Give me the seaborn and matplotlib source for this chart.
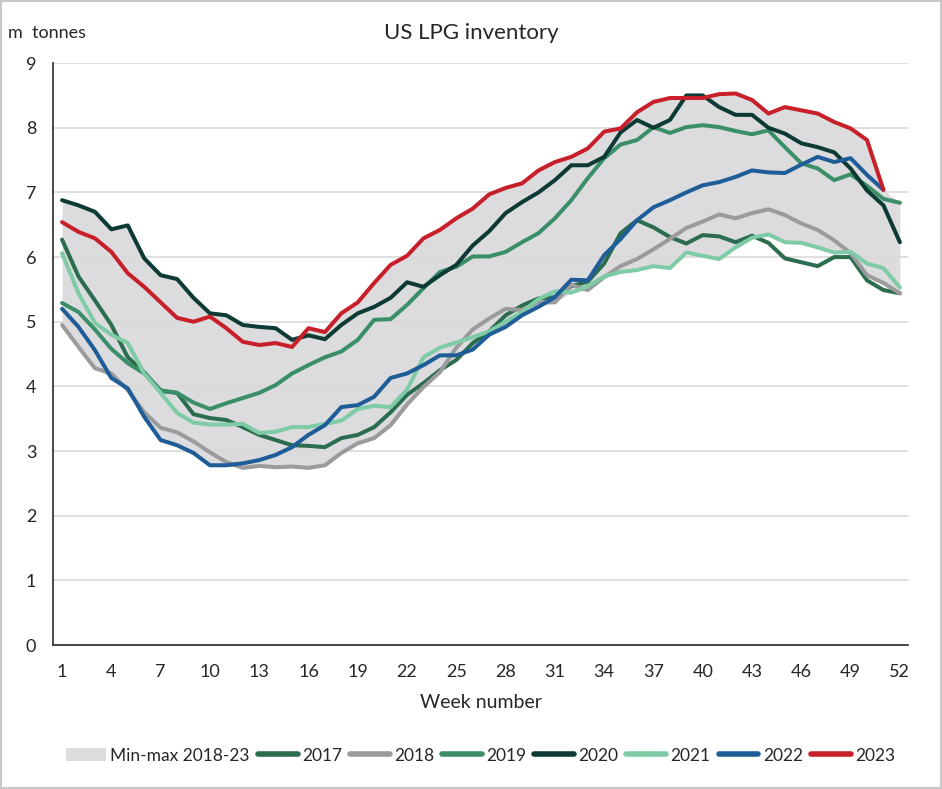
import matplotlib
matplotlib.use("Agg")
import matplotlib.pyplot as plt
from matplotlib.patches import Patch, Rectangle
from matplotlib.lines import Line2D
import numpy as np
import pandas as pd
import seaborn as sns

# weekly inventory, m tonnes
weeks = list(range(1, 53))

y2017 = [6.27, 5.7, 5.33, 4.95, 4.45, 4.22, 3.93, 3.9, 3.57, 3.51,
         3.48, 3.37, 3.25, 3.17, 3.09, 3.08, 3.06, 3.2, 3.25, 3.37,
         3.6, 3.87, 4.05, 4.25, 4.41, 4.67, 4.85, 5.1, 5.25, 5.36,
         5.38, 5.55, 5.62, 5.9, 6.37, 6.57, 6.46, 6.31, 6.21, 6.34,
         6.32, 6.23, 6.33, 6.22, 5.98, 5.92, 5.86, 6.0, 6.0, 5.64,
         5.49, 5.44]
y2018 = [4.95, 4.61, 4.28, 4.2, 3.94, 3.6, 3.36, 3.29, 3.15, 2.98,
         2.83, 2.74, 2.77, 2.75, 2.76, 2.74, 2.78, 2.97, 3.12, 3.2,
         3.4, 3.72, 3.99, 4.22, 4.6, 4.88, 5.05, 5.2, 5.18, 5.3,
         5.3, 5.57, 5.49, 5.69, 5.86, 5.97, 6.12, 6.28, 6.45, 6.55,
         6.66, 6.6, 6.68, 6.74, 6.65, 6.52, 6.42, 6.26, 6.06, 5.72,
         5.6, 5.44]
y2019 = [5.29, 5.15, 4.88, 4.58, 4.36, 4.2, 3.94, 3.9, 3.75, 3.65,
         3.74, 3.82, 3.9, 4.02, 4.2, 4.33, 4.45, 4.54, 4.72, 5.03,
         5.04, 5.26, 5.52, 5.77, 5.85, 6.01, 6.01, 6.08, 6.23, 6.37,
         6.6, 6.88, 7.22, 7.53, 7.74, 7.81, 8.01, 7.92, 8.01, 8.04,
         8.01, 7.95, 7.9, 7.96, 7.7, 7.45, 7.37, 7.19, 7.28, 7.1,
         6.9, 6.84]
y2020 = [6.88, 6.8, 6.7, 6.43, 6.49, 5.98, 5.72, 5.66, 5.37, 5.13,
         5.1, 4.95, 4.92, 4.9, 4.72, 4.79, 4.73, 4.95, 5.13, 5.23,
         5.37, 5.61, 5.54, 5.72, 5.88, 6.18, 6.4, 6.68, 6.85, 7.0,
         7.19, 7.42, 7.42, 7.55, 7.93, 8.12, 8.0, 8.12, 8.5, 8.5,
         8.32, 8.2, 8.2, 8.0, 7.91, 7.76, 7.7, 7.62, 7.37, 7.03,
         6.8, 6.23]
y2021 = [6.06, 5.44, 4.98, 4.8, 4.67, 4.2, 3.9, 3.59, 3.44, 3.41,
         3.41, 3.42, 3.28, 3.3, 3.37, 3.37, 3.42, 3.47, 3.65, 3.7,
         3.68, 3.95, 4.45, 4.6, 4.68, 4.76, 4.85, 5.0, 5.15, 5.35,
         5.47, 5.45, 5.55, 5.7, 5.77, 5.8, 5.86, 5.83, 6.07, 6.02,
         5.97, 6.15, 6.3, 6.35, 6.23, 6.22, 6.15, 6.07, 6.08, 5.9,
         5.83, 5.53]
y2022 = [5.2, 4.92, 4.56, 4.13, 3.97, 3.53, 3.17, 3.09, 2.97, 2.78,
         2.78, 2.81, 2.86, 2.94, 3.06, 3.25, 3.4, 3.68, 3.71, 3.84,
         4.13, 4.2, 4.33, 4.48, 4.48, 4.57, 4.8, 4.92, 5.1, 5.23,
         5.38, 5.65, 5.64, 6.03, 6.28, 6.57, 6.77, 6.88, 7.0, 7.11,
         7.16, 7.24, 7.34, 7.31, 7.3, 7.43, 7.55, 7.47, 7.53, 7.27,
         7.04, np.nan]
y2023 = [6.54, 6.39, 6.29, 6.08, 5.75, 5.54, 5.3, 5.06, 5.0, 5.08,
         4.9, 4.69, 4.64, 4.67, 4.61, 4.9, 4.84, 5.13, 5.3, 5.6,
         5.88, 6.02, 6.29, 6.42, 6.6, 6.75, 6.97, 7.07, 7.14, 7.34,
         7.47, 7.55, 7.68, 7.94, 7.99, 8.24, 8.4, 8.46, 8.46, 8.46,
         8.52, 8.53, 8.43, 8.22, 8.32, 8.27, 8.22, 8.09, 7.99, 7.81,
         7.04, np.nan]

years = ["2017", "2018", "2019", "2020", "2021", "2022", "2023"]
series = [y2017, y2018, y2019, y2020, y2021, y2022, y2023]
colors = ["#2b6d4e", "#9b9b9d", "#3a8f68", "#0e3a36", "#7ecba6", "#1f5d98", "#c8202a"]
band_label = "Min-max 2018-23"
band_color = "#dcdcde"
xticks = list(range(1, 53, 3))

# long table for seaborn
df = pd.DataFrame({
    "week": weeks * len(years),
    "value": sum(series, []),
    "year": [y for y in years for _ in weeks],
})

# min-max band over 2018-2023
recent = np.array(series[1:], dtype=float)
band_lo = np.nanmin(recent, axis=0)
band_hi = np.nanmax(recent, axis=0)

sns.set_style("white")
plt.rcParams["font.family"] = ["Lato", "DejaVu Sans"]

fig = plt.figure(figsize=(9.42, 7.89), dpi=100)
ax = fig.add_axes([0.0563, 0.1825, 0.9077, 0.7375])
ax.set_axisbelow("line")

ax.fill_between(weeks, band_lo, band_hi, color=band_color, lw=0, zorder=1)
sns.lineplot(data=df, x="week", y="value", hue="year", palette=colors,
             linewidth=2.9, legend=False, ax=ax, zorder=2)

ax.set_xlim(0.45, 52.5)
ax.set_ylim(0, 9)
ax.set_xticks(xticks)
ax.set_yticks(range(0, 10))
ax.yaxis.grid(True, color="#d9d9d9", linewidth=1.2)
ax.xaxis.grid(False)
for s in ["top", "right"]:
    ax.spines[s].set_visible(False)
for s in ["left", "bottom"]:
    ax.spines[s].set_color("#3a3a3a")
    ax.spines[s].set_linewidth(1.3)
ax.tick_params(axis="y", length=6, width=1.2, color="#3a3a3a", labelsize=13, pad=6)
ax.tick_params(axis="x", length=0, labelsize=13, pad=14)
ax.set_xlabel("Week number", fontsize=14, labelpad=10)
ax.set_ylabel("")

fig.text(0.5, 1 - 33 / 789, "US LPG inventory", ha="center", va="center", fontsize=16)
fig.text(8 / 942, 1 - 33 / 789, "m  tonnes", ha="left", va="center", fontsize=13)

handles = [Patch(facecolor=band_color, edgecolor="none")]
handles += [Line2D([0], [0], color=c, lw=4, solid_capstyle="round") for c in colors]
ax.legend(handles, [band_label] + years, loc="center", bbox_to_anchor=(0.5, -0.19),
          ncol=8, frameon=False, fontsize=12.5, handlelength=2.3, handletextpad=0.25,
          columnspacing=0.45)

fig.patches.append(Rectangle((0, 0), 1, 1, transform=fig.transFigure, fill=False,
                             edgecolor="#c8c8c8", linewidth=3))

fig.savefig("out.png", dpi=100)
